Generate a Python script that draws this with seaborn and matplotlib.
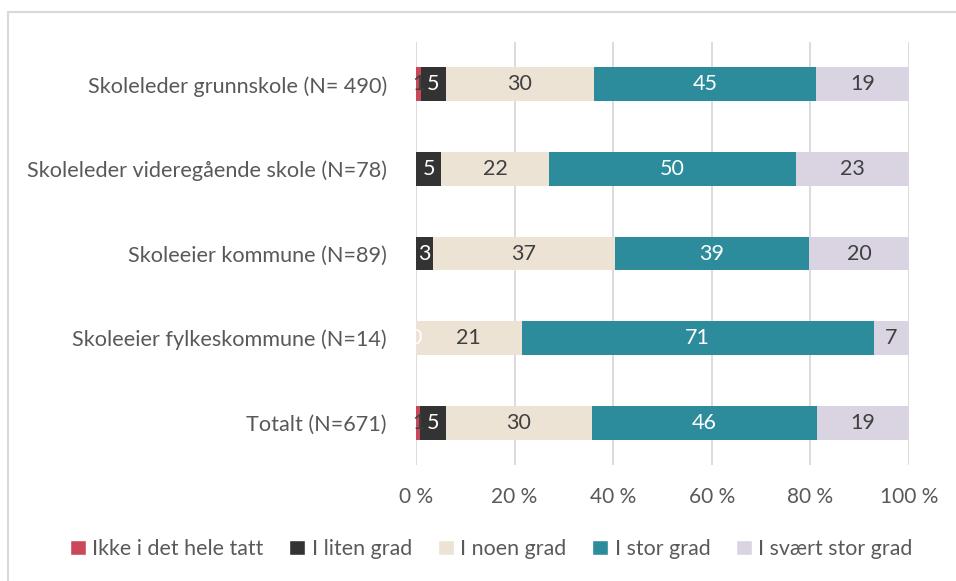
import numpy as np
import pandas as pd
import matplotlib
matplotlib.use("Agg")
import matplotlib.pyplot as plt
from matplotlib.patches import Patch, Rectangle
import seaborn as sns

groups = ["Skoleleder grunnskole (N= 490)",
          "Skoleleder videregående skole (N=78)",
          "Skoleeier kommune (N=89)",
          "Skoleeier fylkeskommune (N=14)",
          "Totalt (N=671)"]
categories = ["Ikke i det hele tatt", "I liten grad", "I noen grad",
              "I stor grad", "I svært stor grad"]
# percentages per group
ikke = [1.0, 0.0, 0.0, 0.0, 0.9]
liten = [5.1, 5.1, 3.4, 0.0, 5.2]
noen = [30.0, 21.9, 37.0, 21.4, 29.6]
stor = [45.0, 50.0, 39.3, 71.4, 45.6]
svart = [18.9, 23.0, 20.3, 7.2, 18.7]
# labels as printed in the chart
labels = {
    "Ikke i det hele tatt": ["1", "", "", "", "1"],
    "I liten grad": ["5", "5", "3", "0", "5"],
    "I noen grad": ["30", "22", "37", "21", "30"],
    "I stor grad": ["45", "50", "39", "71", "46"],
    "I svært stor grad": ["19", "23", "20", "7", "19"],
}

colors = ["#C9495B", "#333333", "#EDE3D5", "#2C8C9C", "#DAD3E1"]
text_colors = ["#404040", "#FFFFFF", "#404040", "#FFFFFF", "#404040"]

df = pd.DataFrame({"group": groups, categories[0]: ikke, categories[1]: liten,
                   categories[2]: noen, categories[3]: stor, categories[4]: svart})
cum = df[categories].cumsum(axis=1)

sns.set_style("white")
plt.rcParams["font.family"] = ["Lato", "DejaVu Sans"]

fig = plt.figure(figsize=(9.56, 5.81), dpi=100)
ax = fig.add_axes([416 / 956, 1 - 465 / 581, 493 / 956, 423 / 581])

for c in reversed(range(len(categories))):
    sns.barplot(x=cum[categories[c]], y=df["group"], orient="h", color=colors[c],
                width=0.4, saturation=1, ax=ax, zorder=2, linewidth=0)

for c, cat in enumerate(categories):
    left = cum[cat] - df[cat]
    for i in range(len(groups)):
        txt = labels[cat][i]
        if txt:
            ax.text(left[i] + df[cat][i] / 2, i, txt, ha="center", va="center",
                    fontsize=15.5, color=text_colors[c], zorder=3)

ax.set_xlim(0, 100)
ax.set_ylim(4.5, -0.5)
ax.set_xticks(range(0, 101, 20))
ax.set_xticklabels([f"{v} %" for v in range(0, 101, 20)])
ax.grid(axis="x", color="#D9D9D9", linewidth=1.3, zorder=0)
ax.set_axisbelow(True)
for s in ax.spines.values():
    s.set_visible(False)
ax.set_xlabel("")
ax.set_ylabel("")
ax.tick_params(axis="x", length=0, pad=16, labelsize=15, labelcolor="#595959")
ax.tick_params(axis="y", length=0, pad=21, labelsize=15.6, labelcolor="#595959")

handles = [Patch(facecolor=col, label=cat) for col, cat in zip(colors, categories)]
fig.legend(handles=handles, loc="center", bbox_to_anchor=(0.514, 1 - 549 / 581),
           ncol=5, frameon=False, fontsize=15.4, handlelength=0.75, handleheight=0.75,
           handletextpad=0.3, columnspacing=1.2, labelcolor="#595959")

fig.add_artist(Rectangle((7.5 / 956, -0.1), 1.2, 1.1 - 12 / 581, transform=fig.transFigure,
                         fill=False, edgecolor="#D9D9D9", linewidth=1.5))

fig.savefig("out.png", dpi=100)
